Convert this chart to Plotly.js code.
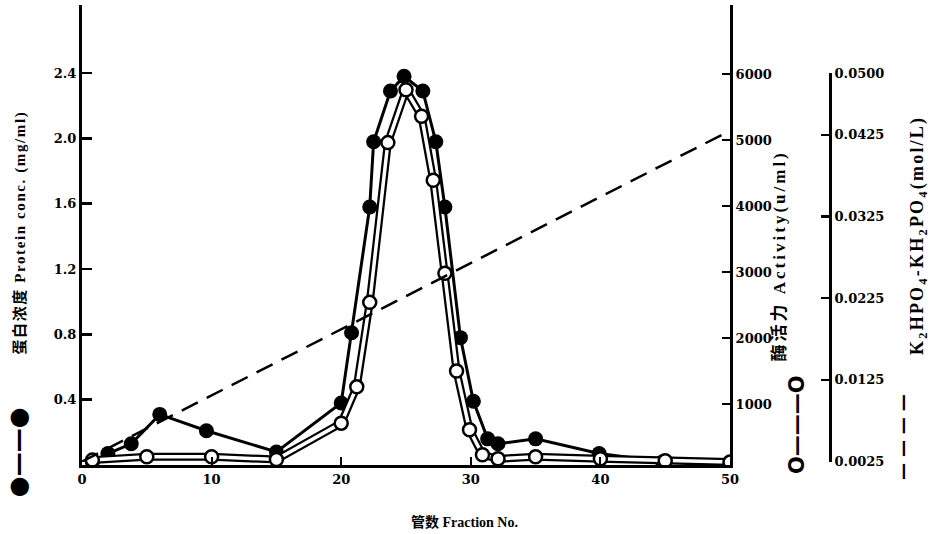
<!DOCTYPE html>
<html><head><meta charset="utf-8">
<script src="https://cdn.plot.ly/plotly-3.0.1.min.js"></script>
<style>
html,body{margin:0;padding:0;background:#fff;}
#chart g.annotation[data-index="1"] text { letter-spacing: 1.6px; }
#chart g.annotation[data-index="3"] text { letter-spacing: 3px; }
#chart g.annotation[data-index="5"] text { letter-spacing: 2.2px; }
</style>
</head><body>
<div id="chart" style="width:931px;height:534px;"></div>
<script>
// Protein concentration (mg/ml), filled circles, left axis
const fracProtein = [0.8, 2, 3.8, 6, 9.6, 15, 20, 20.8, 22.2, 22.5, 23.8, 24.85, 26.3, 27.3, 28.0, 29.2, 30.2, 31.3, 32.1, 35, 39.9, 44.8, 50];
const protein     = [0.02, 0.07, 0.13, 0.31, 0.21, 0.08, 0.38, 0.81, 1.58, 1.98, 2.29, 2.38, 2.29, 1.98, 1.58, 0.78, 0.39, 0.16, 0.13, 0.16, 0.07, 0.02, 0.01];
// Enzyme activity (u/ml), open circles, right axis
const fracActivity = [0.8, 5, 10, 15, 20, 21.2, 22.2, 23.6, 25, 26.2, 27.1, 28, 28.9, 29.9, 30.9, 32.1, 35, 40, 45, 50];
const activity     = [150, 200, 200, 160, 710, 1260, 2540, 4960, 5760, 5360, 4390, 2980, 1500, 610, 230, 170, 200, 170, 140, 120];
// Phosphate gradient (mol/L), dashed line
const fracGradient = [0, 50];
const gradient     = [0.0025, 0.043];
// Tick labels
const proteinTicks  = [0.4, 0.8, 1.2, 1.6, 2.0, 2.4];
const proteinLabels = ['0.4', '0.8', '1.2', '1.6', '2.0', '2.4'];
const activityTicks = [1000, 2000, 3000, 4000, 5000, 6000];
const activityLabels = ['1000', '2000', '3000', '4000', '5000', '6000'];
const gradTicks  = [0.0025, 0.0125, 0.0225, 0.0325, 0.0425, 0.0500];
const gradLabels = ['0.0025', '0.0125', '0.0225', '0.0325', '0.0425', '0.0500'];
const fracTicks  = [0, 10, 20, 30, 40, 50];

const serif = 'Liberation Serif, Noto Sans CJK SC, serif';
const tickFont = {family: 'DejaVu Serif, serif', size: 13, color: '#000', weight: 'bold'};

const traces = [
  {x: fracProtein, y: protein, xaxis: 'x', yaxis: 'y', type: 'scatter', mode: 'lines+markers',
   line: {color: '#000', width: 3}, marker: {color: '#000', size: 15}, hoverinfo: 'skip'},
  {x: fracActivity, y: activity, xaxis: 'x', yaxis: 'y2', type: 'scatter', mode: 'lines',
   line: {color: '#000', width: 8}, hoverinfo: 'skip'},
  {x: fracActivity, y: activity, xaxis: 'x', yaxis: 'y2', type: 'scatter', mode: 'lines+markers',
   line: {color: '#fff', width: 3.5},
   marker: {color: '#fff', size: 13, line: {color: '#000', width: 2.5}}, hoverinfo: 'skip'},
  {x: fracGradient, y: gradient, xaxis: 'x', yaxis: 'y3', type: 'scatter', mode: 'lines',
   line: {color: '#000', width: 2.5, dash: '18px,10px'}, hoverinfo: 'skip'}
];

const ann = (text, x, y, angle, size, family) => ({text: text, xref: 'paper', yref: 'paper', x: x, y: y,
  textangle: angle, showarrow: false, xanchor: 'center', yanchor: 'middle',
  font: {family: family || serif, size: size || 13, color: '#000', weight: 'bold'}});

const sans = 'DejaVu Sans, sans-serif';
const layout = {
  width: 931, height: 534,
  margin: {l: 82, r: 31, t: 5, b: 69},
  paper_bgcolor: '#fff', plot_bgcolor: 'rgba(0,0,0,0)',
  showlegend: false,
  xaxis: {domain: [0, 0.7922], range: [0, 50], tickvals: fracTicks, ticktext: fracTicks.map(String),
    showline: true, linewidth: 3, linecolor: '#000', ticks: 'inside', ticklen: 8, tickwidth: 2,
    tickcolor: '#000', showgrid: false, zeroline: false, tickfont: tickFont, anchor: 'y'},
  yaxis: {range: [0, 2.817], tickvals: proteinTicks, ticktext: proteinLabels,
    showline: true, linewidth: 3, linecolor: '#000', ticks: 'inside', ticklen: 10, tickwidth: 2.5,
    tickcolor: '#000', showgrid: false, zeroline: false, tickfont: tickFont, anchor: 'x'},
  yaxis2: {overlaying: 'y', side: 'right', anchor: 'x', range: [76, 7045],
    tickvals: activityTicks, ticktext: activityLabels,
    showline: true, linewidth: 3, linecolor: '#000', ticks: 'inside', ticklen: 8, tickwidth: 2.5,
    tickcolor: '#000', showgrid: false, zeroline: false, tickfont: tickFont},
  yaxis3: {anchor: 'free', position: 0.9144, side: 'right', domain: [0.0065, 0.852],
    range: [0.00245, 0.05005], tickvals: gradTicks, ticktext: gradLabels,
    showline: true, linewidth: 3, linecolor: '#000', ticks: 'inside', ticklen: 8, tickwidth: 2.5,
    tickcolor: '#000', showgrid: false, zeroline: false, tickfont: tickFont},
  annotations: [
    ann('管数 Fraction No.', 0.468, -0.124, 0, 14),
    ann('蛋白浓度 Protein conc. (mg/ml)', -0.0758, 0.505, -90, 15),
    ann('●——●', -0.0782, 0.028, -90, 24, sans),
    ann('酶活力 Activity(u/ml)', 0.853, 0.455, -90, 17),
    ann('O———O', 0.874, 0.089, -90, 21, sans),
    ann('K<sub>2</sub>HPO<sub>4</sub>-KH<sub>2</sub>PO<sub>4</sub>(mol/L)', 1.022, 0.50, -90, 18),
    ann('— — — —', 1.0037, 0.061, -90, 17, sans)
  ]
};

Plotly.newPlot('chart', traces, layout, {staticPlot: true, displayModeBar: false});
</script>
</body></html>
